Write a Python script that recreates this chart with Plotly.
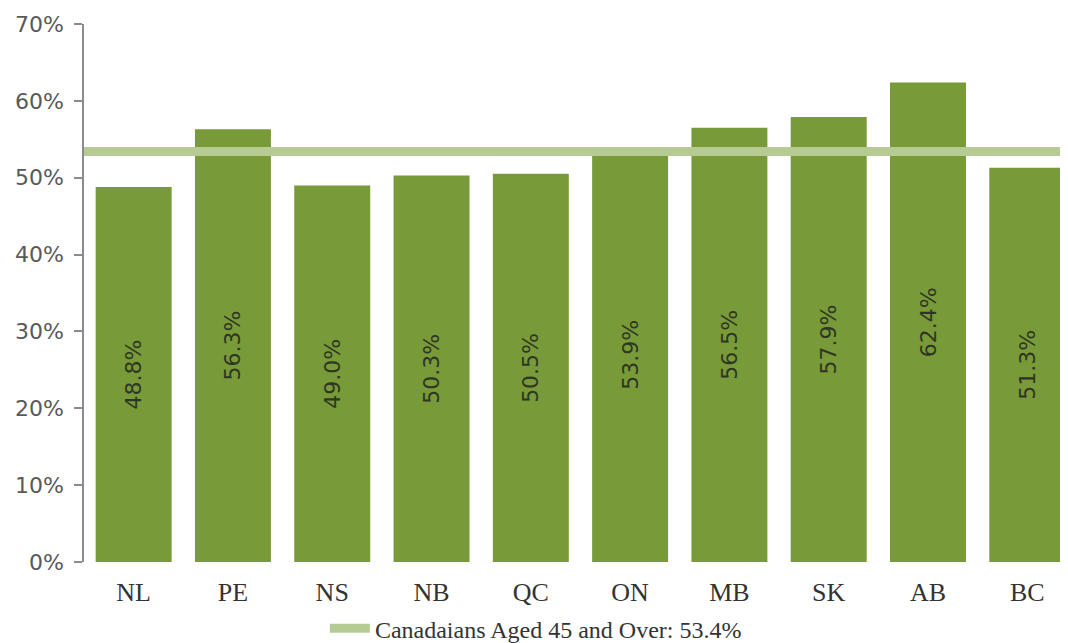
import plotly.graph_objects as go

provinces = ["NL", "PE", "NS", "NB", "QC", "ON", "MB", "SK", "AB", "BC"]
share_45_plus = [48.8, 56.3, 49.0, 50.3, 50.5, 53.9, 56.5, 57.9, 62.4, 51.3]
canada_avg = 53.4
avg_label = "Canadaians Aged 45 and Over: 53.4%"
y_ticks = [0, 10, 20, 30, 40, 50, 60, 70]
y_tick_text = [f"{v}%" for v in y_ticks]

fig = go.Figure()
fig.add_trace(go.Bar(
    x=provinces,
    y=share_45_plus,
    marker=dict(color="#789a38", line=dict(width=0)),
    texttemplate="%{y:.1f}%",
    textposition="inside",
    insidetextanchor="middle",
    textangle=-90,
    textfont=dict(family="DejaVu Sans", size=22, color="#2e3623"),
    showlegend=False,
    hoverinfo="skip",
))

fig.add_shape(
    type="line", xref="paper", yref="y",
    x0=0, x1=1, y0=canada_avg, y1=canada_avg,
    line=dict(color="#b5cb93", width=9),
    layer="above",
    showlegend=True,
    name=avg_label,
)

# the page body adds an 8px offset, so the figure is sized to fill the rest
fig.update_layout(
    width=1060, height=635,
    margin=dict(l=76, r=0, t=16, b=81, autoexpand=False),
    paper_bgcolor="white",
    plot_bgcolor="white",
    bargap=0.235,
    showlegend=True,
    legend=dict(
        orientation="h",
        xref="container", yref="paper",
        x=0.498, xanchor="center",
        y=-0.124, yanchor="middle",
        font=dict(family="Liberation Serif", size=24, color="#333333"),
        itemwidth=40,
        bgcolor="rgba(0,0,0,0)",
    ),
    xaxis=dict(
        range=[-0.5, 9.41],
        showline=False, ticks="", showgrid=False,
        ticklabelstandoff=12,
        tickfont=dict(family="Liberation Serif", size=26, color="#333333"),
    ),
    yaxis=dict(
        range=[0, 70],
        tickmode="array",
        tickvals=y_ticks,
        ticktext=y_tick_text,
        showgrid=False,
        zeroline=False,
        showline=True, linecolor="#8c8c8c", linewidth=1.5,
        ticks="outside", ticklen=8, tickcolor="#8c8c8c", tickwidth=1.5,
        ticklabelstandoff=6,
        tickfont=dict(family="DejaVu Sans", size=22, color="#595959"),
    ),
)

fig.write_html("out.html")
